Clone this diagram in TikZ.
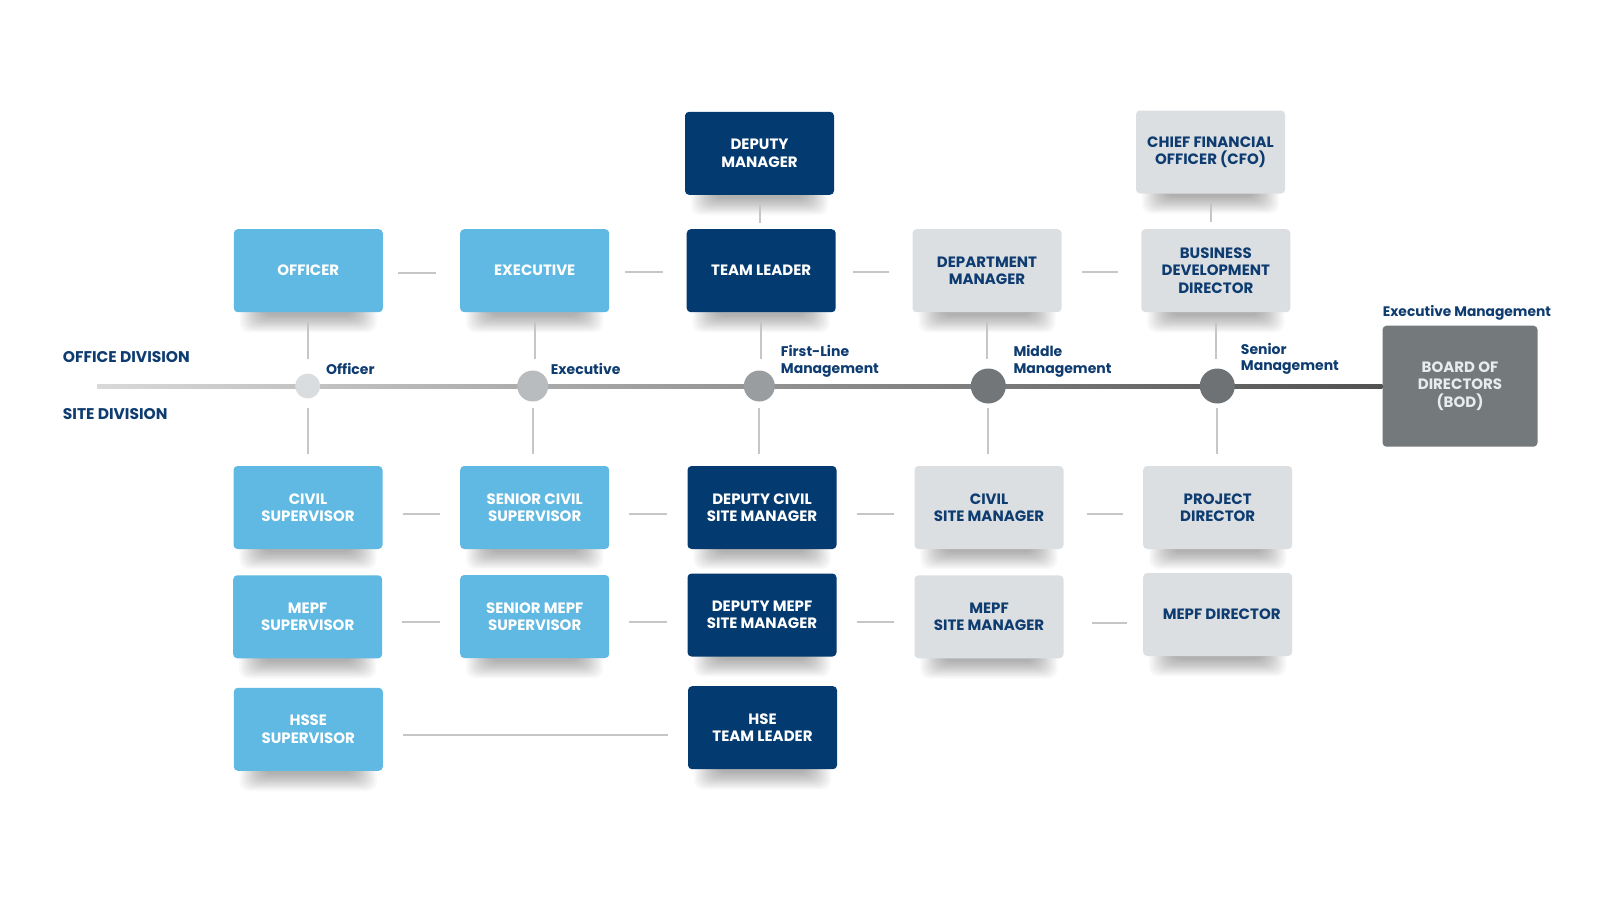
\documentclass[tikz,border=0pt]{standalone}
\usepackage{fontspec}
\setmainfont{Poppins}
\usetikzlibrary{backgrounds}
\definecolor{lblue}{HTML}{5FB9E2}
\definecolor{navy}{HTML}{033A70}
\definecolor{lgray}{HTML}{DCDFE2}
\definecolor{txtnavy}{HTML}{0E3C70}
\definecolor{bodgray}{HTML}{747A7C}
\definecolor{bodtext}{HTML}{E9ECEE}
\definecolor{linegray}{HTML}{C6C6C6}
\definecolor{cA}{HTML}{DADDE0}
\definecolor{cB}{HTML}{B9BCBF}
\definecolor{cC}{HTML}{9A9DA0}
\definecolor{cD}{HTML}{737679}
\definecolor{cE}{HTML}{6E7275}
\newcommand\bshadow[1]{%
  \foreach \i in {0,...,13}{%
    \fill[black, opacity=0.025, rounded corners=9pt]
      ([xshift={(6+1.8*\i)*1pt}, yshift=8pt]#1.south west) rectangle
      ([xshift={-(6+1.8*\i)*1pt}, yshift={-(20-1.3*\i)*1pt}]#1.south east);
  }}
\begin{document}
\begin{tikzpicture}[x=1pt,y=-1pt,
  box/.style={rounded corners=4pt, minimum width=149pt, minimum height=83pt,
    align=center, inner sep=0pt, font=\bfseries\fontsize{15}{17.3}\selectfont},
  bluebox/.style={box, fill=lblue, text=white},
  navybox/.style={box, fill=navy, text=white},
  graybox/.style={box, fill=lgray, text=txtnavy},
  conn/.style={draw=linegray, line width=2pt},
  dot/.style={circle, inner sep=0pt, draw=none},
  lvl/.style={anchor=base west, text=txtnavy, align=left, inner sep=0pt,
    font=\bfseries\fontsize{14}{16.7}\selectfont},
  div/.style={anchor=base west, text=txtnavy, inner sep=0pt,
    font=\bfseries\fontsize{15.5}{17}\selectfont},
]
\useasboundingbox (0,0) rectangle (1600,900);

% top row
\node[navybox] (dm) at (759.5,153.3) {DEPUTY\\MANAGER};
\node[graybox] (cfo) at (1210.5,152) {CHIEF FINANCIAL\\OFFICER (CFO)};
% office row
\node[bluebox] (off) at (308.3,270.7) {OFFICER};
\node[bluebox] (exe) at (534.7,270.7) {EXECUTIVE};
\node[navybox] (tl) at (761.2,270.7) {TEAM LEADER};
\node[graybox] (dept) at (987,270.7) {DEPARTMENT\\MANAGER};
\node[graybox] (bdd) at (1215.8,270.7) {BUSINESS\\DEVELOPMENT\\DIRECTOR};
% board
\node[box, fill=bodgray, text=bodtext, minimum width=155pt, minimum height=121pt] (bod) at (1460,386.2) {BOARD OF\\DIRECTORS\\(BOD)};
% site rows
\node[bluebox] (civ) at (308,507.5) {CIVIL\\SUPERVISOR};
\node[bluebox] (scs) at (534.7,507.5) {SENIOR CIVIL\\SUPERVISOR};
\node[navybox] (dcsm) at (762,507.5) {DEPUTY CIVIL\\SITE MANAGER};
\node[graybox] (csm) at (989,507.5) {CIVIL\\SITE MANAGER};
\node[graybox] (pd) at (1217.7,507.5) {PROJECT\\DIRECTOR};

\node[bluebox] (msup) at (307.7,616.8) {MEPF\\SUPERVISOR};
\node[bluebox] (sms) at (534.7,616.5) {SENIOR MEPF\\SUPERVISOR};
\node[navybox] (dmsm) at (762,615) {DEPUTY MEPF\\SITE MANAGER};
\node[graybox] (msm) at (989,616.8) {MEPF\\SITE MANAGER};
\node[graybox] (md) at (1217.7,614.5) {\hspace*{8pt}MEPF DIRECTOR};

\node[bluebox] (hsse) at (308.3,729.3) {HSSE\\SUPERVISOR};
\node[navybox] (hse) at (762.5,727.7) {HSE\\TEAM LEADER};

% shadows
\begin{scope}[on background layer]
  \fill[white] (0,0) rectangle (1600,900);
  \foreach \n in {dm,cfo,off,exe,tl,dept,bdd,civ,scs,dcsm,csm,pd,msup,sms,dmsm,msm,md,hsse,hse}{\bshadow{\n}}
\end{scope}

% timeline
\coordinate (tlstart) at (97,386);
\shade[left color=black!15, right color=black!68] ([yshift=2pt]tlstart) rectangle ([yshift=-2pt]bod.west);

% level dots
\node[dot, fill=cA, minimum size=25pt] (c1) at (307.7,386) {};
\node[dot, fill=cB, minimum size=31pt] (c2) at (532.7,386) {};
\node[dot, fill=cC, minimum size=31pt] (c3) at (759.3,386) {};
\node[dot, fill=cD, minimum size=35pt] (c4) at (988.3,386) {};
\node[dot, fill=cE, minimum size=35pt] (c5) at (1217.3,386) {};

% vertical connectors
\draw[conn, shorten <=9pt, shorten >=6pt] (dm.south) -- (dm.south |- tl.north);
\draw[conn, shorten <=9.7pt, shorten >=7.3pt] (cfo.south) -- (cfo.south |- bdd.north);

\draw[conn, shorten <=10pt, shorten >=14.5pt] (off.south) -- (off.south |- c1.north);
\draw[conn, shorten <=10pt, shorten >=11.5pt] (exe.south) -- (exe.south |- c2.north);
\draw[conn, shorten <=10pt, shorten >=11.5pt] (tl.south) -- (tl.south |- c3.north);
\draw[conn, shorten <=10pt, shorten >=9.5pt] (dept.south) -- (dept.south |- c4.north);
\draw[conn, shorten <=10pt, shorten >=9.5pt] (bdd.south) -- (bdd.south |- c5.north);

\draw[conn, shorten <=9.5pt, shorten >=12pt] (c1.south) -- (c1.south |- civ.north);
\draw[conn, shorten <=6.5pt, shorten >=12pt] (c2.south) -- (c2.south |- scs.north);
\draw[conn, shorten <=6.5pt, shorten >=12pt] (c3.south) -- (c3.south |- dcsm.north);
\draw[conn, shorten <=4.5pt, shorten >=12pt] (c4.south) -- (c4.south |- csm.north);
\draw[conn, shorten <=4.5pt, shorten >=12pt] (c5.south) -- (c5.south |- pd.north);

% horizontal connectors
\draw[conn, shorten <=15pt, shorten >=24pt] ([yshift=-2pt]off.east) -- ([yshift=-2pt]off.east -| exe.west);
\draw[conn, shorten <=16pt, shorten >=24pt] ([yshift=-1pt]exe.east) -- ([yshift=-1pt]exe.east -| tl.west);
\draw[conn, shorten <=17pt, shorten >=23pt] ([yshift=-1pt]tl.east) -- ([yshift=-1pt]tl.east -| dept.west);
\draw[conn, shorten <=20pt, shorten >=23pt] ([yshift=-1pt]dept.east) -- ([yshift=-1pt]dept.east -| bdd.west);

\draw[conn, shorten <=20pt, shorten >=20pt] ([yshift=-6pt]civ.east) -- ([yshift=-6pt]civ.east -| scs.west);
\draw[conn, shorten <=20pt, shorten >=20pt] ([yshift=-6pt]scs.east) -- ([yshift=-6pt]scs.east -| dcsm.west);
\draw[conn, shorten <=20pt, shorten >=20pt] ([yshift=-6pt]dcsm.east) -- ([yshift=-6pt]dcsm.east -| csm.west);
\draw[conn, shorten <=23pt, shorten >=20pt] ([yshift=-6pt]csm.east) -- ([yshift=-6pt]csm.east -| pd.west);

\draw[conn, shorten <=20pt, shorten >=20pt] ([yshift=-5.5pt]msup.east) -- ([yshift=-5.5pt]msup.east -| sms.west);
\draw[conn, shorten <=20pt, shorten >=20pt] ([yshift=-5.5pt]sms.east) -- ([yshift=-5.5pt]sms.east -| dmsm.west);
\draw[conn, shorten <=20pt, shorten >=20pt] ([yshift=-6.5pt]dmsm.east) -- ([yshift=-6.5pt]dmsm.east -| msm.west);
\draw[conn, shorten <=28pt, shorten >=16pt] ([yshift=-6.5pt]msm.east) -- ([yshift=-6.5pt]msm.east -| md.west);

\draw[conn, shorten <=20pt, shorten >=20pt] ([yshift=-5.7pt]hsse.east) -- ([yshift=-5.7pt]hsse.east -| hse.west);

% labels
\node[div] (odiv) at (62.7,362.3) {OFFICE DIVISION};
\node[div] (sdiv) at (62.7,419) {SITE DIVISION};
\node[lvl] (l1) at (326,374) {Officer};
\node[lvl] (l2) at (550.7,374) {Executive};
\node[lvl] (l3) at (780.7,373.3) {First-Line\\Management};
\node[lvl] (l4) at (1013.3,373.3) {Middle\\Management};
\node[lvl] (l5) at (1240.7,370.7) {Senior\\Management};
\node[lvl, font=\bfseries\fontsize{13.8}{16}\selectfont] (l6) at (1382.7,316.7) {Executive Management};
\end{tikzpicture}
\end{document}
